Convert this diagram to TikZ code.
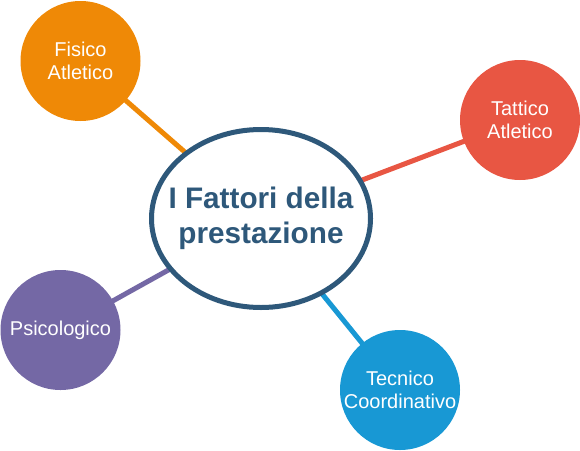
\documentclass[tikz,border=0pt]{standalone}
\usepackage{fontspec}
\setmainfont{Liberation Sans}
\usepackage{tikz}
\usetikzlibrary{shapes.geometric,backgrounds}
\usepackage{xcolor}

\definecolor{hubblue}{RGB}{46,88,122}
\definecolor{fisicocol}{RGB}{239,137,6}
\definecolor{tatticocol}{RGB}{232,86,67}
\definecolor{psicocol}{RGB}{116,104,165}
\definecolor{tecnicocol}{RGB}{24,152,212}

\tikzset{
	factor/.style={circle, minimum size=120pt, inner sep=0pt, text=white, align=center,
		font=\fontsize{20}{23}\selectfont},
	hubnode/.style={ellipse, draw=hubblue, line width=5pt, fill=white, text=hubblue,
		minimum width=219pt, minimum height=178pt, inner xsep=-20pt, inner ysep=0pt, align=center,
		font=\fontsize{29.7}{35.5}\selectfont\bfseries}
}

\begin{document}
\begin{tikzpicture}[x=1pt, y=-1pt]
		\useasboundingbox (0,0) rectangle (580,450);

		% Central node
		\node[hubnode] (hub) at (261,218.5) {I Fattori della\\prestazione};

		% Factors
		\node[factor, fill=fisicocol] (fisico) at (80.5,61) {Fisico\\Atletico};
		\node[factor, fill=tatticocol] (tattico) at (520,120) {Tattico\\Atletico};
		\node[factor, fill=psicocol] (psico) at (60.5,330) {Psicologico};
		\node[factor, fill=tecnicocol] (tecnico) at (400,390) {Tecnico\\Coordinativo};

		% Connectors
		\begin{scope}[on background layer]
			\foreach \name/\col in {fisico/fisicocol, tattico/tatticocol, psico/psicocol, tecnico/tecnicocol} {
				\draw[line width=5pt, \col] (hub.center) -- (\name.center);
			}
		\end{scope}
	\end{tikzpicture}
\end{document}
